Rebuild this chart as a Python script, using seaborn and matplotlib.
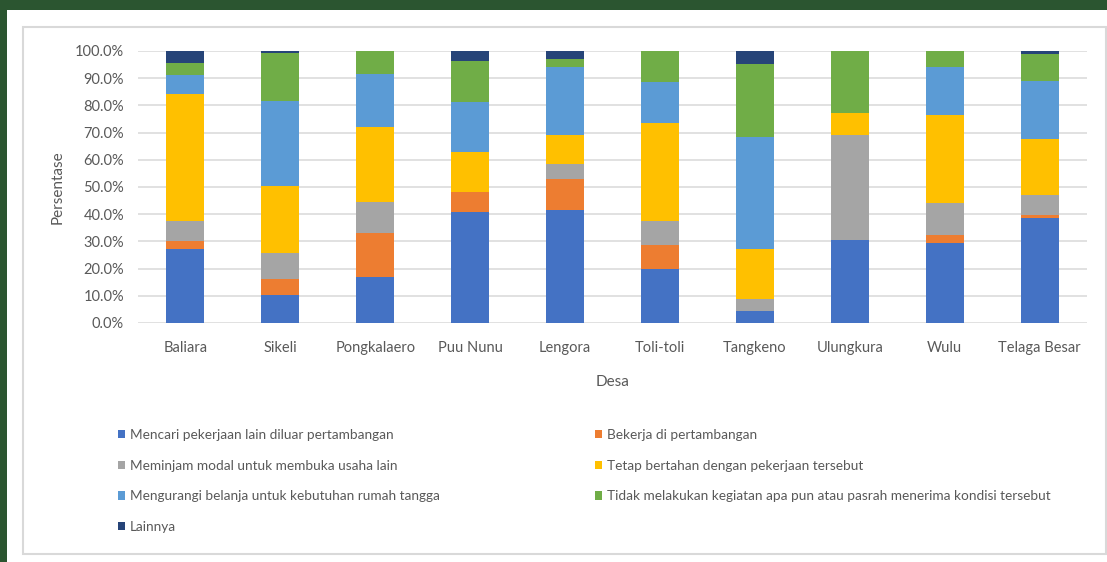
import numpy as np
import matplotlib.pyplot as plt
import seaborn as sns
from matplotlib.patches import Rectangle, Patch
from matplotlib.ticker import PercentFormatter


desa = ['Baliara', 'Sikeli', 'Pongkalaero', 'Puu Nunu', 'Lengora',
        'Toli-toli', 'Tangkeno', 'Ulungkura', 'Wulu', 'Telaga Besar']

mencari = [27.3, 10.2, 16.8, 40.9, 41.6, 20.0, 4.5, 30.6, 29.5, 38.6]
bekerja = [2.9, 5.8, 16.4, 7.2, 11.3, 8.8, 0.0, 0.0, 2.9, 1.2]
meminjam = [7.4, 9.6, 11.4, 0.0, 5.5, 8.8, 4.4, 38.7, 11.8, 7.2]
tetap = [46.5, 24.8, 27.6, 14.6, 10.9, 35.8, 18.4, 7.8, 32.1, 20.8]
mengurangi = [7.1, 31.4, 19.5, 18.7, 24.9, 15.3, 41.0, 0.0, 17.9, 21.2]
tidak = [4.5, 17.6, 8.3, 15.1, 2.9, 11.3, 26.9, 22.9, 5.8, 10.0]
lainnya = [4.3, 0.6, 0.0, 3.5, 2.9, 0.0, 4.8, 0.0, 0.0, 1.0]

labels = ['Mencari pekerjaan lain diluar pertambangan',
          'Bekerja di pertambangan',
          'Meminjam modal untuk membuka usaha lain',
          'Tetap bertahan dengan pekerjaan tersebut',
          'Mengurangi belanja untuk kebutuhan rumah tangga',
          'Tidak melakukan kegiatan apa pun atau pasrah menerima kondisi tersebut',
          'Lainnya']
series = [mencari, bekerja, meminjam, tetap, mengurangi, tidak, lainnya]
colors = ['#4472c4', '#ed7d31', '#a5a5a5', '#ffc000', '#5b9bd5', '#70ad47', '#264478']

sns.set_style('white')
plt.rcParams['font.family'] = ['Lato', 'DejaVu Sans']

W, H = 1107, 562
fig = plt.figure(figsize=(W / 100, H / 100), dpi=100)
fig.patch.set_facecolor('#2b5530')


def box(x0, y0, x1, y1):
    return [x0 / W, 1 - y1 / H, (x1 - x0) / W, (y1 - y0) / H]


# white page and light chart frame
fig.add_artist(Rectangle((7 / W, 0), 1 - 7 / W, 1 - 10 / H, transform=fig.transFigure,
                         facecolor='white', edgecolor='none', zorder=-2))
fig.add_artist(Rectangle((23 / W, 1 - 554 / H), (1106 - 23) / W, (554 - 27) / H,
                         transform=fig.transFigure, fill=False, edgecolor='#d9d9d9',
                         lw=1.5, zorder=-1))

ax = fig.add_axes(box(138, 51, 1087, 323))
ax.set_facecolor('none')

bottom = np.zeros(len(desa))
for vals, col in zip(series, colors):
    sns.barplot(x=desa, y=vals, order=desa, bottom=bottom, color=col, saturation=1,
                width=0.4, errorbar=None, linewidth=0, ax=ax)
    bottom += np.array(vals)

ax.set_ylim(0, 100)
ax.set_yticks(np.arange(0, 101, 10))
ax.yaxis.set_major_formatter(PercentFormatter(xmax=100, decimals=1))
ax.yaxis.grid(True, color='#d9d9d9', lw=1.1)
ax.set_axisbelow(True)
for s in ax.spines.values():
    s.set_visible(False)
ax.tick_params(axis='y', length=0, pad=10, labelsize=10.5, labelcolor='#595959')
ax.tick_params(axis='x', length=0, pad=13, labelsize=10.5, labelcolor='#595959')

ax.set_xlabel('Desa', fontsize=11, color='#595959')
ax.set_ylabel('Persentase', fontsize=11, color='#595959')
ax.xaxis.set_label_coords(0.5, -0.19)
ax.yaxis.set_label_coords(-0.077, 0.5)

handles = [Patch(facecolor=c, edgecolor='none') for c in colors]
legend_kw = dict(loc='upper left', frameon=False, fontsize=9.8, handlelength=0.55,
                 handleheight=0.55, handletextpad=0.3, labelspacing=1.37,
                 borderpad=0, borderaxespad=0, labelcolor='#595959')
left = [0, 2, 4, 6]
right = [1, 3, 5]
fig.legend([handles[i] for i in left], [labels[i] for i in left],
           bbox_to_anchor=(118 / W, 1 - 429 / H), **legend_kw)
fig.legend([handles[i] for i in right], [labels[i] for i in right],
           bbox_to_anchor=(595 / W, 1 - 429 / H), **legend_kw)

fig.savefig('out.png', dpi=100, facecolor=fig.get_facecolor())
